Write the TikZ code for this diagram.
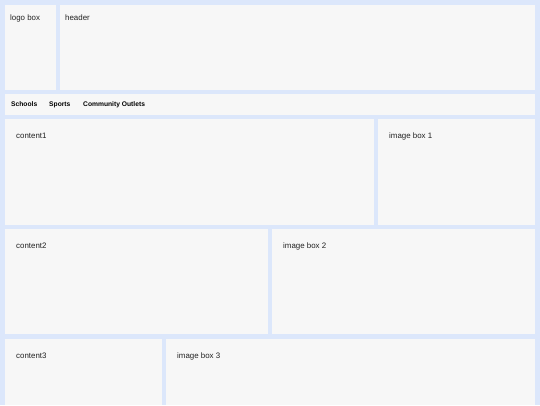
\documentclass[tikz,border=0pt]{standalone}
\usepackage{fontspec}
\setmainfont{Liberation Sans}
\definecolor{bgblue}{HTML}{DCE7FB}
\definecolor{panel}{HTML}{F7F7F7}
\definecolor{txt}{HTML}{222222}
\begin{document}
\begin{tikzpicture}[x=1pt,y=-1pt,
  panelbox/.style={fill=panel,draw=none},
  lbl/.style={anchor=base west,inner sep=0pt,font=\fontsize{7.9}{9}\selectfont,text=txt},
  navlbl/.style={anchor=base west,inner sep=0pt,font=\fontsize{6.7}{8}\selectfont\bfseries,text=black}]
\fill[bgblue] (0,0) rectangle (540,405);
\useasboundingbox (0,0) rectangle (540,405);
% top row
\path[panelbox] (5,5) rectangle (56,90);
\path[panelbox] (60,5) rectangle (534.5,90);
\node[lbl] (logo) at (10,20) {logo box};
\node[lbl] (header) at (65,20) {header};
% nav
\path[panelbox] (5,94) rectangle (534.5,115);
\node[navlbl] (schools) at (11,106) {Schools};
\node[navlbl] (sports) at (49,106) {Sports};
\node[navlbl] (outlets) at (83,106) {Community Outlets};
% row 1
\path[panelbox] (5,119) rectangle (374,225);
\path[panelbox] (378,119) rectangle (534.5,225);
\node[lbl] (c1) at (16,138) {content1};
\node[lbl] (i1) at (389,138.5) {image box 1};
% row 2
\path[panelbox] (5,229) rectangle (268,334);
\path[panelbox] (272,229) rectangle (534.5,334);
\node[lbl] (c2) at (16,248) {content2};
\node[lbl] (i2) at (283,248) {image box 2};
% row 3
\path[panelbox] (5,339) rectangle (162,405);
\path[panelbox] (166,339) rectangle (534.5,405);
\node[lbl] (c3) at (16,358) {content3};
\node[lbl] (i3) at (177,358) {image box 3};
\end{tikzpicture}
\end{document}
